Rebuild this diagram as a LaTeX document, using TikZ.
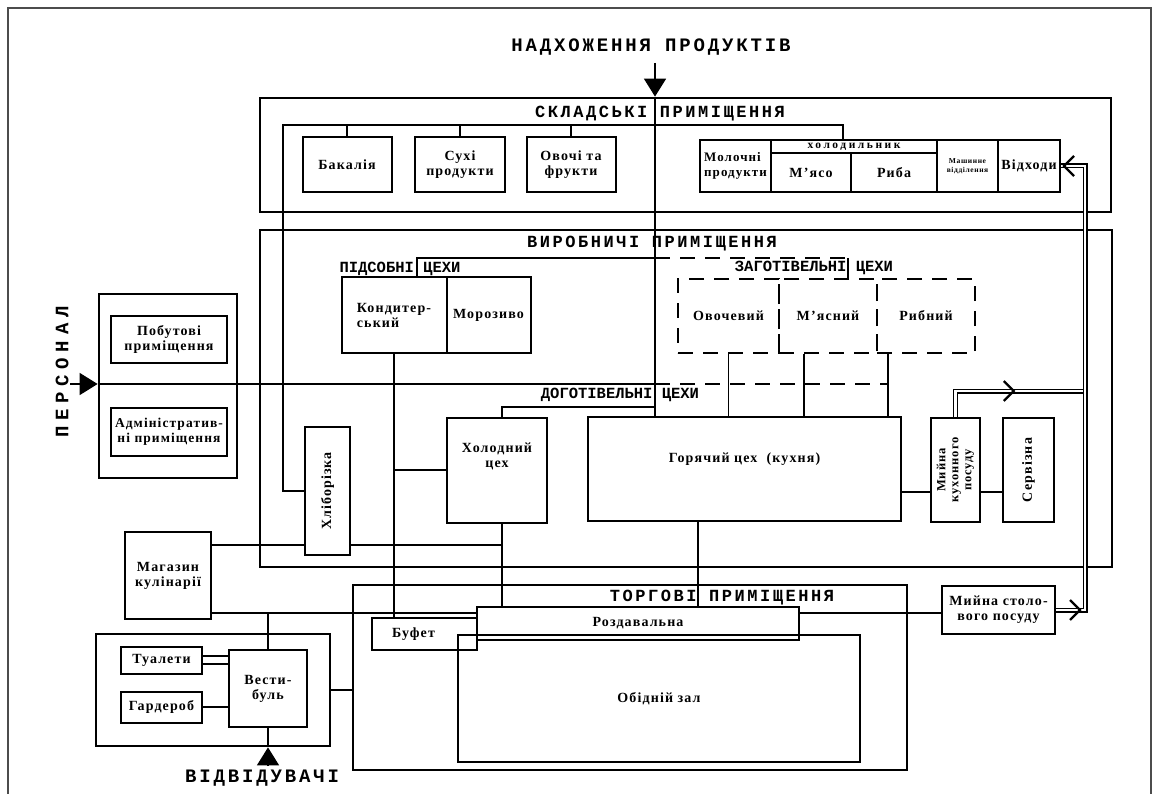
\documentclass[tikz,border=0pt]{standalone}
\usepackage{fontspec}
\setmainfont{Liberation Serif}
\newfontfamily\labfont{Liberation Serif}[LetterSpace=8]
\newfontfamily\tinyfont{Liberation Serif}[LetterSpace=22]
\newfontfamily\hdfont{Liberation Mono}[LetterSpace=15]
\newfontfamily\widefont{Liberation Mono}[LetterSpace=30]
\newfontfamily\subfont{Liberation Mono}
\usetikzlibrary{arrows.meta,calc}

\tikzstyle{zone} = [draw, line width=2.8pt, inner sep=0pt]
\tikzstyle{lab} = [font=\labfont\bfseries\fontsize{14}{15}\selectfont, align=center, inner sep=1pt]
\tikzstyle{room} = [lab, draw, line width=2pt, inner sep=0pt]
\tikzstyle{dashline} = [dash pattern=on 15pt off 10pt]
\tikzstyle{shop} = [room, dashline, line width=2.2pt]
\tikzstyle{head} = [font=\hdfont\bfseries\fontsize{17}{18}\selectfont]
\tikzstyle{bighead} = [font=\hdfont\bfseries\fontsize{19}{20}\selectfont]
\tikzstyle{widehead} = [font=\widefont\bfseries\fontsize{19}{20}\selectfont]
\tikzstyle{subhead} = [font=\subfont\bfseries\fontsize{15.5}{16}\selectfont]
\tikzstyle{link} = [line width=1.7pt]
\tikzstyle{inlet} = [line width=1.7pt, -{Triangle[width=22pt,length=18pt]}]
\tikzstyle{flow} = [double, double distance=2.6pt, line width=1.2pt]
\tikzstyle{chev} = [line width=2.2pt]

\begin{document}
\begin{tikzpicture}[x=1pt, y=-1pt]
\fill[white] (0,0) rectangle (1158,794);
\useasboundingbox (0,0) rectangle (1158,794);
\draw[gray!60!black, line width=1.2pt] (8,794) -- (8,8) -- (1151,8) -- (1151,794);

% zones
\node[zone, minimum width=851, minimum height=114] (sklad) at (685.5,155) {};
\node[zone, minimum width=852, minimum height=337] (vyrob) at (686,398.5) {};
\node[zone, minimum width=554, minimum height=185] (torg) at (630,677.5) {};
\node[zone, minimum width=138, minimum height=184] (pers) at (168,386) {};
\node[zone, minimum width=234, minimum height=112] (vzone) at (213,690) {};

\node[bighead] (nadh) at (651,47) {НАДХОЖЕННЯ ПРОДУКТІВ};
\node[head] at (660,114) {СКЛАДСЬКІ ПРИМІЩЕННЯ};
\node[head] at (652,244) {ВИРОБНИЧІ ПРИМІЩЕННЯ};
\node[head] at (722,598) {ТОРГОВІ ПРИМІЩЕННЯ};
\node[subhead] at (400,269) {ПІДСОБНІ ЦЕХИ};
\node[subhead] at (814,268) {ЗАГОТІВЕЛЬНІ ЦЕХИ};
\node[subhead] at (620,395) {ДОГОТІВЕЛЬНІ ЦЕХИ};
\node[widehead, rotate=90] (persnm) at (62,372) {ПЕРСОНАЛ};
\node[bighead] (vidv) at (262,778) {ВІДВІДУВАЧІ};

% warehouse
\node[room, minimum width=89, minimum height=55] (bakal) at (347,164.5) {Бакалія};
\node[room, minimum width=90, minimum height=55] (suhi) at (460,164.5) {Сухі\\продукти};
\node[room, minimum width=89, minimum height=55] (ovochi) at (571,164.5) {Овочі та\\фрукти};
\node[room, minimum width=71, minimum height=52, align=left, font=\labfont\bfseries\fontsize{13}{15}\selectfont] (moloch) at (735.5,166) {Молочні\\продукти};
\node[room, minimum width=166, minimum height=13, font=\tinyfont\bfseries\fontsize{11.5}{11}\selectfont] (holod) at (854,146.5) {холодильник};
\node[room, minimum width=80, minimum height=39] (myaso) at (811,172.5) {М’ясо};
\node[room, minimum width=86, minimum height=39] (ryba) at (894,172.5) {Риба};
\node[room, minimum width=61, minimum height=52, font=\labfont\bfseries\fontsize{7.5}{9}\selectfont] (mashyn) at (967.5,166) {Машинне\\відділення};
\node[room, minimum width=62, minimum height=52] (vidhody) at (1029,166) {Відходи};

% production
\node[room, minimum width=105, minimum height=76, align=left] (kond) at (394,315) {Кондитер-\\ський};
\node[room, minimum width=84, minimum height=76] (moroz) at (488.5,315) {Морозиво};
\node[shop, minimum width=101, minimum height=74] (ovoch) at (728.5,316) {Овочевий};
\node[shop, minimum width=98, minimum height=74] (myasn) at (828,316) {М’ясний};
\node[shop, minimum width=98, minimum height=74] (rybn) at (926,316) {Рибний};
\node[room, minimum width=45, minimum height=128] (hlib) at (327.5,491) {};
\node[lab, rotate=90] at (hlib) {Хліборізка};
\node[room, minimum width=100, minimum height=105] (holodn) at (497,470) {};
\node[lab] at ([yshift=-40pt]holodn.north) {Холодний\\цех};
\node[room, minimum width=313, minimum height=104] (gor) at (744.5,469) {};
\node[lab] at ([yshift=-43pt]gor.north) {Горячий цех\ \ (кухня)};
\node[room, minimum width=49, minimum height=104] (mkp) at (955.5,470) {};
\node[lab, rotate=90, font=\labfont\bfseries\fontsize{12.5}{13}\selectfont] at (mkp) {Мийна\\кухонного\\посуду};
\node[room, minimum width=51, minimum height=104] (serv) at (1028.5,470) {};
\node[lab, rotate=90] at (serv) {Сервізна};

% staff
\node[room, minimum width=116, minimum height=47] (pobut) at (169,339.5) {Побутові\\приміщення};
\node[room, minimum width=116, minimum height=48, font=\labfont\bfseries\fontsize{13.5}{15}\selectfont] (admin) at (169,432) {Адміністратив-\\ні приміщення};

% trade
\node[room, minimum width=86, minimum height=87] (magaz) at (168,575.5) {Магазин\\кулінарії};
\node[room, minimum width=402, minimum height=127] (zal) at (659,698.5) {Обідній зал};
\node[room, minimum width=105, minimum height=32] (bufet) at (424.5,634) {};
\node[lab] at ([xshift=-11pt]bufet) {Буфет};
\node[room, minimum width=322, minimum height=33] (rozd) at (638,623.5) {Роздавальна};
\node[room, minimum width=113, minimum height=48] (mst) at (998.5,610) {Мийна столо-\\вого посуду};
\node[room, minimum width=81, minimum height=27] (tualet) at (161.5,660) {Туалети};
\node[room, minimum width=81, minimum height=31] (garder) at (161.5,707) {Гардероб};
\node[room, minimum width=78, minimum height=77] (vest) at (268,688.5) {Вести-\\буль};

% products in
\coordinate (prodin) at (655,63);
\draw[inlet] (prodin) -- (prodin |- sklad.north);
\draw[link] (prodin |- sklad.north) -- (prodin |- gor.north);

% warehouse tree
\coordinate (sklL) at (283,125);
\coordinate (sklR) at (843,125);
\draw[link] (hlib.west) -| (sklL) -- (sklR) -- (sklR |- moloch.north);
\foreach \n in {bakal,suhi,ovochi}
    \draw[link] (\n.north) -- (\n.north |- sklL);

% staff line
\coordinate (persin) at (70,384);
\coordinate (persR) at (655,384);
\draw[inlet] (persin) -- (persin -| pers.west);
\draw[link] (persin -| pers.west) -- (persR);

% auxiliary and preparing shops
\coordinate (pidL) at (417,258);
\coordinate (pidM) at (655,258);
\coordinate (zagR) at (848,258);
\draw[link] (pidL |- kond.north) -- (pidL) -- (pidM);
\draw[link, dashline] (pidM) -- (zagR);
\draw[link] (zagR) -- (zagR |- myasn.north);
\draw[link] (ovoch.south) -- (ovoch.south |- gor.north);
\draw[link] ([xshift=-24pt]myasn.south) coordinate (myasdrop) -- (myasdrop |- gor.north);
\draw[link] ([xshift=-38pt]rybn.south) coordinate (rybdrop) -- (rybdrop |- gor.north);
\draw[link, dashline] (persR) -- (persR -| rybdrop);

% pre-cooking shops
\coordinate (dogL) at (502,407);
\draw[link] (holodn.north -| dogL) -- (dogL) -- (dogL -| prodin);
\draw[link] (kond.south) -- (kond.south |- bufet.north);
\draw[link] (kond.south |- holodn.west) -- (holodn.west);
\draw[link] (holodn.south -| dogL) -- (dogL |- rozd.north);
\draw[link] ([xshift=-46.5pt]gor.south) coordinate (gorout) -- (gorout |- rozd.north);

% shop and serving lines
\coordinate (shopln) at (0,545);
\coordinate (servln) at (0,613);
\draw[link] (magaz.east |- shopln) -- (hlib.west |- shopln);
\draw[link] (hlib.east |- shopln) -- (dogL |- shopln);
\draw[link] (magaz.east |- servln) -- (rozd.west |- servln);
\draw[link] (rozd.east |- servln) -- (mst.west |- servln);
\draw[link] (vest.north |- servln) -- (vest.north);

% vestibule
\draw[link] ([yshift=4pt]tualet.east) -- ([yshift=4pt]tualet.east -| vest.west);
\draw[link] ([yshift=-4pt]tualet.east) -- ([yshift=-4pt]tualet.east -| vest.west);
\draw[link] (garder.east) -- (garder.east -| vest.west);
\draw[link] (vzone.east) -- (vzone.east -| torg.west);
\coordinate (visin) at (268,766);
\draw[inlet] (visin) -- (visin |- vzone.south);
\draw[link] (visin |- vzone.south) -- (vest.south);

% washing
\coordinate (washln) at (0,492);
\draw[link] (gor.east |- washln) -- (mkp.west |- washln);
\draw[link] (mkp.east |- washln) -- (serv.west |- washln);

% waste flow
\coordinate (wasteX) at (1085,391);
\draw[flow] (mkp.north) -- (mkp.north |- wasteX) -- (wasteX);
\draw[flow] (vidhody.east) -| (wasteX |- mst.east) -- (mst.east);
\coordinate (chevA) at ($(mkp.north |- wasteX)!0.45!(wasteX)$);
\coordinate (chevB) at ([xshift=-5pt]wasteX |- mst.east);
\coordinate (chevC) at ([xshift=3pt]vidhody.east);
\draw[chev] ([xshift=-10pt,yshift=10pt]chevA) -- (chevA) -- ([xshift=-10pt,yshift=-10pt]chevA);
\draw[chev] ([xshift=-10pt,yshift=10pt]chevB) -- (chevB) -- ([xshift=-10pt,yshift=-10pt]chevB);
\draw[chev] ([xshift=10pt,yshift=10pt]chevC) -- (chevC) -- ([xshift=10pt,yshift=-10pt]chevC);
\end{tikzpicture}
\end{document}
